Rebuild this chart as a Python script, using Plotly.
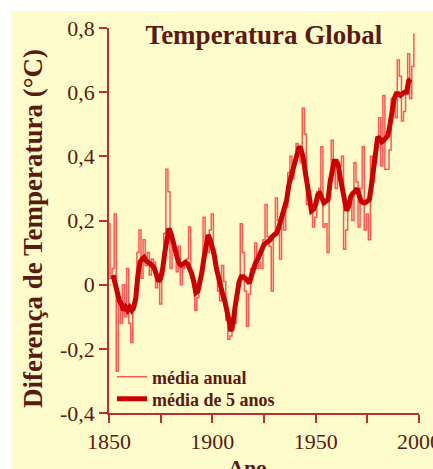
import plotly.graph_objects as go

# ---- data ----
years_annual = list(range(1850, 1999))
annual = [
    0.19, 0.02, 0.05, 0.22, -0.27, -0.05, -0.12, 0.00, -0.10, 0.05,   # 1850-1859
    -0.12, -0.18, -0.08, -0.05, 0.10, 0.17, 0.02, 0.14, 0.06, 0.10,   # 1860-1869
    0.03, 0.08, 0.07, -0.01, 0.02, -0.06, 0.03, 0.16, 0.36, 0.29,     # 1870-1879
    0.05, 0.12, 0.10, 0.04, 0.12, 0.00, 0.05, 0.07, 0.08, 0.18,       # 1880-1889
    0.02, 0.00, -0.08, -0.04, 0.00, 0.05, 0.21, 0.12, 0.10, 0.17,     # 1890-1899
    0.22, 0.11, 0.04, -0.02, -0.05, 0.06, 0.01, -0.11, -0.17, -0.16,  # 1900-1909
    -0.14, -0.12, -0.03, 0.01, 0.19, 0.10, -0.02, -0.13, -0.03, 0.05, # 1910-1919
    0.04, 0.13, 0.05, 0.07, 0.05, 0.14, 0.25, 0.15, 0.12, -0.02,      # 1920-1929
    0.16, 0.27, 0.20, 0.08, 0.22, 0.17, 0.24, 0.35, 0.40, 0.33,       # 1930-1939
    0.38, 0.44, 0.40, 0.38, 0.55, 0.47, 0.25, 0.29, 0.24, 0.18,       # 1940-1949
    0.21, 0.29, 0.30, 0.43, 0.18, 0.19, 0.10, 0.33, 0.45, 0.37,       # 1950-1959
    0.30, 0.38, 0.37, 0.40, 0.11, 0.17, 0.24, 0.27, 0.20, 0.38,       # 1960-1969
    0.32, 0.18, 0.30, 0.43, 0.17, 0.22, 0.14, 0.40, 0.32, 0.38,       # 1970-1979
    0.46, 0.52, 0.37, 0.59, 0.36, 0.36, 0.42, 0.58, 0.58, 0.52,       # 1980-1989
    0.70, 0.65, 0.51, 0.54, 0.60, 0.72, 0.58, 0.68, 0.78,             # 1990-1998
]

years_5yr = list(range(1852, 1997))
mean_5yr = [
    0.03, 0.00, -0.03, -0.05, -0.06, -0.08, -0.07, -0.08,             # 1852-1859
    -0.07, -0.08, -0.07, -0.04, 0.03, 0.07, 0.08, 0.085, 0.075, 0.07, # 1860-1869
    0.065, 0.06, 0.05, 0.03, 0.01, 0.02, 0.05, 0.10, 0.15, 0.175,     # 1870-1879
    0.16, 0.14, 0.11, 0.085, 0.065, 0.06, 0.065, 0.07, 0.065, 0.05,   # 1880-1889
    0.035, 0.01, -0.025, -0.02, 0.005, 0.04, 0.085, 0.13, 0.155, 0.14,# 1890-1899
    0.12, 0.09, 0.05, 0.02, -0.01, -0.03, -0.05, -0.075, -0.11, -0.145,  # 1900-1909
    -0.12, -0.07, -0.02, 0.01, 0.025, 0.025, 0.02, 0.01, 0.005, 0.03, # 1910-1919
    0.055, 0.07, 0.08, 0.095, 0.115, 0.125, 0.13, 0.135, 0.14, 0.15,  # 1920-1929
    0.155, 0.16, 0.175, 0.195, 0.215, 0.24, 0.265, 0.31, 0.335, 0.355,# 1930-1939
    0.375, 0.405, 0.43, 0.42, 0.395, 0.35, 0.30, 0.26, 0.23, 0.235,   # 1940-1949
    0.25, 0.28, 0.285, 0.27, 0.255, 0.26, 0.265, 0.32, 0.36, 0.385,   # 1950-1959
    0.385, 0.37, 0.33, 0.29, 0.25, 0.23, 0.245, 0.275, 0.285, 0.29,   # 1960-1969
    0.30, 0.28, 0.26, 0.255, 0.255, 0.26, 0.265, 0.31, 0.36, 0.42,    # 1970-1979
    0.46, 0.455, 0.445, 0.45, 0.46, 0.465, 0.50, 0.545, 0.58, 0.595,  # 1980-1989
    0.595, 0.59, 0.595, 0.60, 0.60, 0.635, 0.64,                      # 1990-1996
]

y_tickvals = [-0.4, -0.2, 0, 0.2, 0.4, 0.6, 0.8]
y_ticktext = ["-0,4", "-0,2", "0", "0,2", "0,4", "0,6", "0,8"]
x_tickvals = [1850, 1875, 1900, 1925, 1950, 1975, 2000]
x_ticktext = ["1850", "", "1900", "", "1950", "", "2000"]

# ---- layout constants ----
W, H = 433, 469
L, R, T, B = 109, 14, 28, 56
PW, PH = W - L - R, H - T - B
BG = "#FFFCCC"
TXT = "#5A1A10"
AX = "#B83030"
SERIF = "Liberation Serif, Times New Roman, serif"

def px_x(p):
    return (p - L) / PW

def px_y(p):
    return (H - B - p) / PH

fig = go.Figure()
fig.add_trace(go.Scatter(
    x=years_annual, y=annual, mode="lines", name="<b>média anual</b>",
    line=dict(color="rgba(255,70,70,0.9)", width=1.5, shape="hvh"),
    legend="legend",
))
fig.add_trace(go.Scatter(
    x=years_5yr, y=mean_5yr, mode="lines", name="<b>média de 5 anos</b>",
    line=dict(color="#CC0000", width=5),
    legend="legend2",
))

axis_common = dict(showgrid=False, zeroline=False, showline=True, linecolor=AX,
                   linewidth=1.5, ticks="outside", ticklen=8, tickcolor=AX,
                   tickwidth=1.5, automargin=False, ticklabeloverflow="allow",
                   tickfont=dict(size=22, color=TXT, family=SERIF))

legend_common = dict(xanchor="left", yanchor="middle", bgcolor="rgba(0,0,0,0)",
                     font=dict(size=18, color=TXT, family=SERIF), itemwidth=30)

fig.update_layout(
    width=W, height=H,
    margin=dict(l=L, r=R, t=T, b=B, pad=0, autoexpand=False),
    paper_bgcolor=BG, plot_bgcolor=BG,
    font=dict(family=SERIF, color=TXT),
    title=dict(text="<b>Temperatura Global</b>", x=0.5, xref="paper",
               y=1 - 35 / H, yref="container", yanchor="middle", xanchor="center",
               font=dict(size=27, color=TXT, family=SERIF), automargin=False),
    showlegend=True,
    legend=dict(x=px_x(112), y=px_y(377), **legend_common),
    legend2=dict(x=px_x(112), y=px_y(399), **legend_common),
    xaxis=dict(range=[1850, 2000], tickvals=x_tickvals, ticktext=x_ticktext, **axis_common),
    yaxis=dict(range=[-0.4, 0.8], tickvals=y_tickvals, ticktext=y_ticktext, **axis_common),
    shapes=[
        dict(type="rect", xref="paper", yref="paper", layer="above",
             x0=px_x(0), x1=px_x(W), y0=px_y(11), y1=px_y(0),
             fillcolor="white", line=dict(width=0)),
        dict(type="rect", xref="paper", yref="paper", layer="above",
             x0=px_x(0), x1=px_x(11), y0=px_y(H), y1=px_y(0),
             fillcolor="white", line=dict(width=0)),
    ],
    annotations=[
        dict(text="<b>Diferença de Temperatura (°C)</b>", textangle=-90,
             xref="paper", yref="paper", x=px_x(33), y=px_y(229),
             xanchor="center", yanchor="middle", showarrow=False,
             font=dict(size=27, color=TXT, family=SERIF)),
        dict(text="<b>Ano</b>", xref="paper", yref="paper",
             x=px_x(247), y=px_y(453), xanchor="center", yanchor="top",
             showarrow=False, font=dict(size=22, color=TXT, family=SERIF)),
    ],
)

fig.write_html("out.html", config={"displayModeBar": False},
               post_script="document.body.style.margin='0';document.body.style.overflow='hidden';")
